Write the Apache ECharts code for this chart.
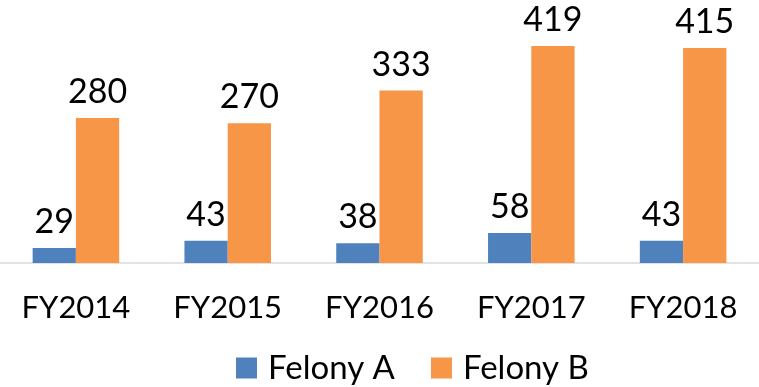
<!DOCTYPE html>
<html>
<head>
<meta charset="utf-8">
<script src="https://cdn.jsdelivr.net/npm/echarts@6/dist/echarts.min.js"></script>
<style>
  html, body { margin: 0; padding: 0; background: #fff; }
  #chart { width: 759px; height: 387px; }
</style>
</head>
<body>
<div id="chart"></div>
<script>
// Fiscal years on the category axis
const years = ['FY2014', 'FY2015', 'FY2016', 'FY2017', 'FY2018'];
// Counts per felony class
const felonyA = [29, 43, 38, 58, 43];
const felonyB = [280, 270, 333, 419, 415];

const FONT = 'Lato, "Open Sans", sans-serif';

const chart = echarts.init(document.getElementById('chart'));
chart.setOption({
  animation: false,
  textStyle: { fontFamily: FONT },
  grid: { left: 0, right: 0, top: 30, bottom: 124, containLabel: false },
  legend: {
    data: ['Felony A', 'Felony B'],
    top: 345,
    left: 231,
    itemWidth: 21,
    itemHeight: 21,
    itemGap: 36,
    icon: 'rect',
    textStyle: { fontFamily: FONT, fontSize: 33, color: '#000', padding: [0, 0, 0, 6], lineHeight: 36 }
  },
  xAxis: {
    type: 'category',
    data: years,
    axisLine: { show: true, lineStyle: { color: '#D9D9D9', width: 1.5 } },
    axisTick: { show: false },
    axisLabel: { color: '#000', fontSize: 31, fontFamily: FONT, margin: 29 }
  },
  yAxis: {
    type: 'value',
    min: 0,
    max: 450,
    show: false,
    splitLine: { show: false }
  },
  series: [
    {
      name: 'Felony A',
      type: 'bar',
      data: felonyA,
      barGap: '0%',
      barCategoryGap: '43%',
      itemStyle: { color: '#4F81BD' },
      label: { show: true, position: 'top', distance: 9, color: '#000', fontSize: 34, fontFamily: FONT }
    },
    {
      name: 'Felony B',
      type: 'bar',
      data: felonyB,
      barGap: '0%',
      barCategoryGap: '43%',
      itemStyle: { color: '#F79646' },
      label: { show: true, position: 'top', distance: 9, color: '#000', fontSize: 34, fontFamily: FONT }
    }
  ]
});
</script>
</body>
</html>
